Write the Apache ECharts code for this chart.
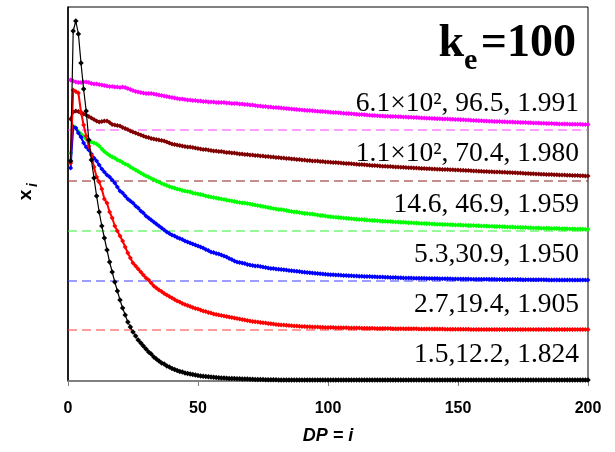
<!DOCTYPE html>
<html><head><meta charset="utf-8">
<script src="https://cdn.jsdelivr.net/npm/echarts@6/dist/echarts.min.js"></script>
<style>html,body{margin:0;padding:0;background:#fff}#c{width:615px;height:452px}</style>
</head><body><div id="c"></div>
<script>
// chain length index DP = i (1..200)
const dpValues = Array.from({length: 200}, (_, k) => k + 1);
const xTicks = [0, 50, 100, 150, 200];
// vertical shift applied to each curve (and its dashed baseline)
const offsets = [0, 1.02, 2, 3, 4, 5.02];
const seriesColors = ['#000000', '#FF0000', '#0000FF', '#00FF00', '#800000', '#FF00FF'];
const dashColors = ['rgba(0,0,0,0)', 'rgba(255,70,70,0.7)', 'rgba(70,70,255,0.7)', 'rgba(60,240,60,0.7)', 'rgba(140,40,40,0.7)', 'rgba(255,70,255,0.7)'];
const annotations = ['1.5,12.2, 1.824', '2.7,19.4, 1.905', '5.3,30.9, 1.950', '14.6, 46.9, 1.959', '1.1×10², 70.4, 1.980', '6.1×10², 96.5, 1.991'];

const black = [4.40,7.00,7.20,6.94,6.36,5.84,5.40,4.82,4.42,4.06,
3.70,3.38,3.10,2.86,2.62,2.38,2.18,1.98,1.80,1.62,
1.46,1.32,1.18,1.08,0.98,0.90,0.82,0.76,0.70,0.64,
0.58,0.54,0.48,0.44,0.40,0.36,0.34,0.30,0.28,0.25,
0.23,0.21,0.19,0.18,0.16,0.15,0.14,0.13,0.12,0.11,
0.10,0.095,0.09,0.085,0.08,0.075,0.07,0.065,0.06,0.058,
0.055,0.052,0.05,0.048,0.046,0.044,0.042,0.04,0.038,0.036,
0.034,0.032,0.03,0.029,0.028,0.027,0.026,0.025,0.024,0.023,
0.02,0.02,0.02,0.02,0.02,0.02,0.02,0.02,0.02,0.02,
0.02,0.02,0.02,0.02,0.02,0.02,0.02,0.02,0.02,0.02,
0.02,0.02,0.02,0.02,0.02,0.02,0.02,0.02,0.02,0.02,
0.02,0.02,0.02,0.02,0.02,0.02,0.02,0.02,0.02,0.02,
0.02,0.02,0.02,0.02,0.02,0.02,0.02,0.02,0.02,0.02,
0.02,0.02,0.02,0.02,0.02,0.02,0.02,0.02,0.02,0.02,
0.02,0.02,0.02,0.02,0.02,0.02,0.02,0.02,0.02,0.02,
0.02,0.02,0.02,0.02,0.02,0.02,0.02,0.02,0.02,0.02,
0.02,0.02,0.02,0.02,0.02,0.02,0.02,0.02,0.02,0.02,
0.02,0.02,0.02,0.02,0.02,0.02,0.02,0.02,0.02,0.02,
0.02,0.02,0.02,0.02,0.02,0.02,0.02,0.02,0.02,0.02,
0.02,0.02,0.02,0.02,0.02,0.02,0.02,0.02,0.02,0.02];

const red = [3.34,4.80,4.77,4.74,4.36,4.10,3.88,3.68,3.50,3.26,
3.06,2.96,2.82,2.62,2.54,2.36,2.24,2.08,1.98,1.88,
1.78,1.66,1.54,1.44,1.34,1.28,1.22,1.16,1.10,1.04,
1.00,0.94,0.88,0.84,0.80,0.77,0.73,0.70,0.67,0.64,
0.61,0.58,0.56,0.53,0.51,0.49,0.47,0.45,0.43,0.42,
0.40,0.38,0.37,0.35,0.34,0.32,0.31,0.30,0.29,0.28,
0.27,0.26,0.25,0.24,0.23,0.22,0.21,0.20,0.19,0.18,
0.17,0.165,0.16,0.15,0.145,0.14,0.13,0.125,0.12,0.11,
0.105,0.10,0.098,0.095,0.09,0.085,0.082,0.08,0.075,0.07,
0.068,0.066,0.064,0.062,0.06,0.058,0.056,0.054,0.052,0.05,
0.049,0.048,0.047,0.046,0.045,0.044,0.043,0.042,0.041,0.040,
0.039,0.038,0.037,0.036,0.035,0.034,0.033,0.032,0.031,0.030,
0.029,0.029,0.028,0.028,0.027,0.027,0.026,0.026,0.025,0.025,
0.024,0.024,0.023,0.023,0.022,0.022,0.021,0.021,0.020,0.020,
0.019,0.019,0.018,0.018,0.017,0.017,0.016,0.016,0.015,0.015,
0.014,0.014,0.013,0.013,0.012,0.012,0.011,0.011,0.010,0.010,
0.01,0.01,0.01,0.01,0.01,0.01,0.01,0.01,0.01,0.01,
0.01,0.01,0.01,0.01,0.01,0.01,0.01,0.01,0.01,0.01,
0.01,0.01,0.01,0.01,0.01,0.01,0.01,0.01,0.01,0.01,
0.01,0.01,0.01,0.01,0.01,0.01,0.01,0.01,0.01,0.01];

const blue = [2.26,3.08,3.06,2.96,2.88,2.76,2.68,2.62,2.54,2.46,
2.40,2.32,2.24,2.18,2.12,2.08,2.02,1.96,1.88,1.80,
1.76,1.70,1.64,1.60,1.56,1.50,1.46,1.40,1.36,1.30,
1.26,1.22,1.18,1.14,1.10,1.06,1.02,0.98,0.95,0.92,
0.90,0.87,0.85,0.83,0.80,0.78,0.76,0.74,0.72,0.70,
0.68,0.66,0.63,0.61,0.58,0.57,0.55,0.54,0.52,0.50,
0.48,0.45,0.43,0.40,0.38,0.37,0.36,0.35,0.33,0.32,
0.31,0.30,0.30,0.29,0.28,0.27,0.26,0.25,0.25,0.24,
0.235,0.23,0.225,0.22,0.21,0.205,0.20,0.195,0.19,0.18,
0.175,0.17,0.165,0.16,0.155,0.15,0.145,0.14,0.135,0.13,
0.127,0.124,0.121,0.118,0.115,0.112,0.109,0.106,0.103,0.10,
0.098,0.096,0.094,0.092,0.09,0.088,0.086,0.084,0.082,0.08,
0.078,0.076,0.074,0.072,0.07,0.068,0.066,0.064,0.062,0.06,
0.059,0.058,0.057,0.056,0.055,0.054,0.053,0.052,0.051,0.05,
0.049,0.048,0.047,0.046,0.045,0.044,0.043,0.042,0.041,0.04,
0.039,0.039,0.038,0.038,0.037,0.037,0.036,0.036,0.035,0.035,
0.034,0.034,0.033,0.033,0.032,0.032,0.031,0.031,0.03,0.03,
0.029,0.029,0.028,0.028,0.027,0.027,0.026,0.026,0.025,0.025,
0.024,0.024,0.023,0.023,0.022,0.022,0.021,0.021,0.02,0.02,
0.02,0.02,0.02,0.02,0.02,0.02,0.02,0.02,0.02,0.02];

const green = [1.56,2.10,2.06,1.99,1.94,1.89,1.84,1.81,1.78,1.76,
1.74,1.70,1.64,1.59,1.55,1.51,1.48,1.46,1.42,1.40,
1.37,1.34,1.32,1.28,1.25,1.22,1.19,1.16,1.13,1.10,
1.08,1.05,1.03,1.00,0.98,0.95,0.93,0.91,0.89,0.87,
0.86,0.84,0.83,0.81,0.80,0.79,0.78,0.76,0.75,0.74,
0.73,0.72,0.70,0.69,0.68,0.67,0.66,0.65,0.64,0.63,
0.62,0.61,0.60,0.59,0.58,0.57,0.56,0.56,0.55,0.54,
0.53,0.52,0.51,0.50,0.49,0.48,0.47,0.46,0.45,0.44,
0.43,0.43,0.42,0.41,0.40,0.39,0.38,0.38,0.37,0.36,
0.35,0.35,0.34,0.34,0.33,0.32,0.31,0.31,0.30,0.29,
0.285,0.28,0.275,0.27,0.265,0.26,0.255,0.25,0.245,0.24,
0.236,0.232,0.228,0.224,0.22,0.216,0.212,0.208,0.204,0.20,
0.197,0.194,0.191,0.188,0.185,0.182,0.179,0.176,0.173,0.17,
0.167,0.164,0.161,0.158,0.155,0.152,0.149,0.146,0.143,0.14,
0.138,0.136,0.134,0.132,0.13,0.128,0.126,0.124,0.122,0.12,
0.118,0.116,0.114,0.112,0.11,0.108,0.106,0.104,0.102,0.10,
0.098,0.096,0.094,0.092,0.09,0.088,0.086,0.084,0.082,0.08,
0.078,0.076,0.074,0.072,0.07,0.068,0.066,0.064,0.062,0.06,
0.059,0.057,0.056,0.054,0.053,0.052,0.05,0.049,0.048,0.046,
0.045,0.044,0.042,0.041,0.04,0.039,0.038,0.036,0.035,0.034];

const brown = [1.24,1.38,1.40,1.39,1.36,1.34,1.32,1.29,1.26,1.23,
1.20,1.18,1.19,1.20,1.20,1.17,1.13,1.12,1.11,1.10,
1.07,1.05,1.03,1.00,0.98,0.96,0.94,0.92,0.90,0.88,
0.87,0.85,0.84,0.83,0.82,0.81,0.80,0.78,0.76,0.74,
0.73,0.72,0.71,0.70,0.69,0.68,0.68,0.67,0.66,0.65,
0.64,0.63,0.63,0.62,0.61,0.60,0.60,0.59,0.59,0.58,
0.57,0.57,0.56,0.56,0.55,0.54,0.54,0.53,0.53,0.52,
0.52,0.51,0.51,0.50,0.50,0.49,0.49,0.48,0.48,0.47,
0.47,0.46,0.46,0.45,0.45,0.44,0.44,0.43,0.43,0.42,
0.42,0.41,0.41,0.40,0.40,0.40,0.39,0.39,0.38,0.38,
0.376,0.372,0.368,0.364,0.360,0.356,0.352,0.348,0.344,0.340,
0.336,0.332,0.328,0.324,0.320,0.316,0.312,0.308,0.304,0.300,
0.297,0.294,0.291,0.288,0.285,0.282,0.279,0.276,0.273,0.270,
0.267,0.264,0.261,0.258,0.255,0.252,0.249,0.246,0.243,0.240,
0.238,0.236,0.234,0.232,0.230,0.228,0.226,0.224,0.222,0.220,
0.217,0.214,0.211,0.208,0.205,0.202,0.199,0.196,0.193,0.190,
0.188,0.186,0.184,0.182,0.180,0.178,0.176,0.174,0.172,0.170,
0.167,0.164,0.161,0.158,0.155,0.152,0.149,0.146,0.143,0.140,
0.138,0.136,0.134,0.132,0.130,0.128,0.126,0.124,0.122,0.120,
0.118,0.116,0.114,0.112,0.110,0.108,0.106,0.104,0.102,0.100];

const magenta = [1.00,0.98,0.96,0.95,0.95,0.96,0.96,0.95,0.93,0.92,
0.92,0.91,0.90,0.89,0.88,0.87,0.87,0.86,0.86,0.85,
0.86,0.85,0.83,0.81,0.79,0.77,0.76,0.75,0.74,0.73,
0.73,0.73,0.72,0.71,0.70,0.69,0.68,0.67,0.66,0.65,
0.64,0.63,0.62,0.62,0.61,0.60,0.60,0.59,0.59,0.58,
0.58,0.57,0.57,0.56,0.56,0.56,0.55,0.55,0.55,0.55,
0.54,0.54,0.53,0.53,0.53,0.52,0.52,0.51,0.51,0.50,
0.50,0.49,0.48,0.48,0.47,0.47,0.46,0.46,0.45,0.45,
0.445,0.44,0.435,0.43,0.425,0.42,0.415,0.41,0.405,0.40,
0.396,0.392,0.388,0.384,0.38,0.376,0.372,0.368,0.364,0.36,
0.356,0.352,0.348,0.344,0.340,0.336,0.332,0.328,0.324,0.320,
0.316,0.312,0.308,0.304,0.300,0.296,0.292,0.288,0.284,0.280,
0.278,0.276,0.274,0.272,0.270,0.268,0.266,0.264,0.262,0.260,
0.257,0.254,0.251,0.248,0.245,0.242,0.239,0.236,0.233,0.230,
0.228,0.226,0.224,0.222,0.220,0.218,0.216,0.214,0.212,0.210,
0.207,0.204,0.201,0.198,0.195,0.192,0.189,0.186,0.183,0.180,
0.178,0.176,0.174,0.172,0.170,0.168,0.166,0.164,0.162,0.160,
0.158,0.156,0.154,0.152,0.150,0.148,0.146,0.144,0.142,0.140,
0.138,0.136,0.134,0.132,0.130,0.128,0.126,0.124,0.122,0.120,
0.119,0.118,0.117,0.116,0.115,0.114,0.113,0.112,0.111,0.110];

const curves = [black, red, blue, green, brown, magenta];

const chart = echarts.init(document.getElementById('c'), null, {renderer: 'canvas'});

const series = [];
// dashed baselines
offsets.forEach((off, k) => {
  if (k === 0) return;
  series.push({
    type: 'line', silent: true, showSymbol: false, symbol: 'none', z: 1,
    data: [[0, off], [200, off]],
    lineStyle: {color: dashColors[k], width: 1.5, type: [9, 5]}
  });
});
// curves (coloured ones first, black on top)
[5, 4, 3, 2, 1, 0].forEach((k) => {
  const vals = curves[k];
  series.push({
    type: 'line', z: 3 + (5 - k),
    data: dpValues.map((dp, j) => [dp, vals[j] + offsets[k]]),
    symbol: 'diamond', symbolSize: k === 0 ? 5.5 : 5, showAllSymbol: true,
    itemStyle: {color: seriesColors[k]},
    lineStyle: {color: seriesColors[k], width: k === 0 ? 1.2 : 2},
    animation: false
  });
});

const graphics = [
  {type: 'text', x: 576, y: 44, style: {text: '=100', font: 'bold 46px "Liberation Serif"', fill: '#000', align: 'right', verticalAlign: 'middle'}},
  {type: 'text', x: 464, y: 44, style: {text: 'k', font: 'bold 46px "Liberation Serif"', fill: '#000', align: 'right', verticalAlign: 'middle'}},
  {type: 'text', x: 464, y: 61, style: {text: 'e', font: 'bold 30px "Liberation Serif"', fill: '#000', align: 'left', verticalAlign: 'middle'}},
  {type: 'text', x: 26, y: 195, rotation: Math.PI / 2, style: {text: 'x', font: 'bold 19px "Liberation Sans"', fill: '#000', align: 'center', verticalAlign: 'middle'}},
  {type: 'text', x: 33, y: 185, rotation: Math.PI / 2, style: {text: 'i', font: 'italic bold 14px "Liberation Sans"', fill: '#000', align: 'center', verticalAlign: 'middle'}}
];
const annotCenters = [355, 305, 255, 205, 154, 104];
annotations.forEach((t, k) => {
  graphics.push({type: 'text', x: 579, y: annotCenters[k], style: {text: t, font: '27.5px "Liberation Serif"', fill: '#000', align: 'right', verticalAlign: 'middle'}});
});

chart.setOption({
  animation: false,
  backgroundColor: '#fff',
  grid: {left: 68, right: 27, top: 7, bottom: 71, show: true, borderColor: '#000', borderWidth: 1, backgroundColor: 'transparent'},
  xAxis: {
    type: 'value', min: xTicks[0], max: xTicks[xTicks.length - 1], interval: 50,
    axisLine: {show: true, lineStyle: {color: '#808080', width: 1.5}},
    axisTick: {show: true, length: 5, lineStyle: {color: '#808080'}},
    axisLabel: {color: '#000', fontFamily: 'Liberation Sans', fontWeight: 'bold', fontSize: 16, margin: 20},
    splitLine: {show: false},
    name: 'DP = i', nameLocation: 'middle', nameGap: 46,
    nameTextStyle: {color: '#000', fontFamily: 'Liberation Sans', fontWeight: 'bold', fontStyle: 'italic', fontSize: 18}
  },
  yAxis: {
    type: 'value', min: 0, max: 7.48,
    axisLine: {show: true, lineStyle: {color: '#000', width: 1.5}},
    axisTick: {show: false}, axisLabel: {show: false}, splitLine: {show: false}
  },
  series: series,
  graphic: graphics
});
</script>
</body></html>
